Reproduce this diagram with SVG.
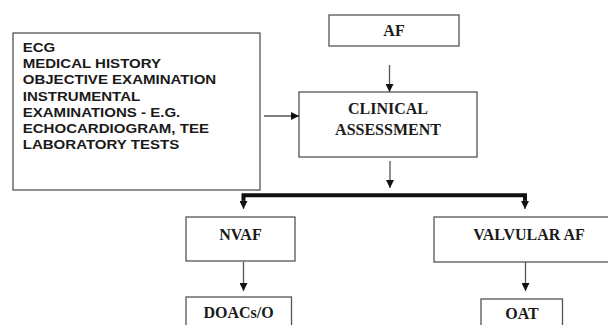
<svg xmlns="http://www.w3.org/2000/svg" width="608" height="325" viewBox="0 0 608 325">
<style>
.box{fill:#fff;stroke:#555;stroke-width:1.3}
.sans{font-family:"Liberation Sans",Arial,sans-serif;font-weight:bold;font-size:13.2px;fill:#1a1a1a}
.serif{font-family:"Liberation Serif","Times New Roman",serif;font-weight:bold;font-size:16px;fill:#1a1a1a;text-anchor:middle}
.thin{fill:none;stroke:#555;stroke-width:1.3}
.thick{fill:none;stroke:#111;stroke-width:4}
</style>
<defs>
<marker id="ah" markerUnits="userSpaceOnUse" markerWidth="8" markerHeight="8" refX="8" refY="4" orient="auto" viewBox="0 0 8 8">
<path d="M0,0 L8,4 L0,8 z" fill="#111"/>
</marker>
</defs>
<g id="inputs">
<rect class="box" x="13" y="33" width="247" height="157"/>
<g transform="translate(22.7,0) scale(1.14,1)">
<text class="sans" x="0" y="52">ECG</text>
<text class="sans" x="0" y="68.2">MEDICAL HISTORY</text>
<text class="sans" x="0" y="84.4">OBJECTIVE EXAMINATION</text>
<text class="sans" x="0" y="100.6">INSTRUMENTAL</text>
<text class="sans" x="0" y="116.8">EXAMINATIONS - E.G.</text>
<text class="sans" x="0" y="133">ECHOCARDIOGRAM, TEE</text>
<text class="sans" x="0" y="149.2">LABORATORY TESTS</text>
</g>
</g>
<g id="af">
<rect class="box" x="329" y="15" width="130" height="31"/>
<text class="serif" x="394" y="36">AF</text>
</g>
<g id="clinical">
<rect class="box" x="299" y="92" width="178" height="65"/>
<text class="serif" x="388" y="113.5">CLINICAL</text>
<text class="serif" x="388" y="135">ASSESSMENT</text>
</g>
<g id="nvaf">
<rect class="box" x="186" y="217" width="109" height="44"/>
<text class="serif" x="240.5" y="240">NVAF</text>
</g>
<g id="valvular">
<rect class="box" x="434" y="217" width="190" height="45"/>
<text class="serif" x="529" y="240">VALVULAR AF</text>
</g>
<g id="doacs">
<rect class="box" x="186" y="297" width="105.5" height="40"/>
<text class="serif" x="238.5" y="317.5">DOACs/O</text>
</g>
<g id="oat">
<rect class="box" x="481" y="299" width="81.5" height="40"/>
<text class="serif" x="522" y="318.5">OAT</text>
</g>
<g id="connectors">
<line class="thin" x1="264" y1="116" x2="299" y2="116" marker-end="url(#ah)"/>
<line class="thin" x1="389.5" y1="65" x2="389.5" y2="92" marker-end="url(#ah)"/>
<line class="thin" x1="390" y1="161" x2="390" y2="188" marker-end="url(#ah)"/>
<path class="thick" d="M243.5,203 V195.3 H525 V203"/>
<line class="thin" x1="243.5" y1="200" x2="243.5" y2="209" stroke-width="0" marker-end="url(#ah)"/>
<line class="thin" x1="525" y1="200" x2="525" y2="209" stroke-width="0" marker-end="url(#ah)"/>
<line class="thin" x1="243.5" y1="262" x2="243.5" y2="291" marker-end="url(#ah)"/>
<line class="thin" x1="525.5" y1="262" x2="525.5" y2="291" marker-end="url(#ah)"/>
</g>
</svg>
